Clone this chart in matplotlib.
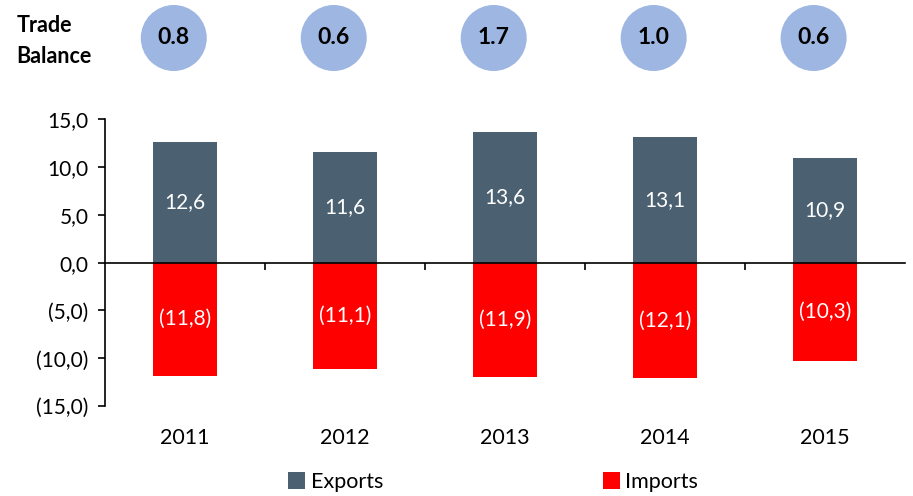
import numpy as np
import matplotlib
matplotlib.use("Agg")
import matplotlib.pyplot as plt
from matplotlib.patches import Circle
from matplotlib.ticker import FuncFormatter

years = ['2011', '2012', '2013', '2014', '2015']
exports = [12.6, 11.6, 13.6, 13.1, 10.9]
imports = [-11.8, -11.1, -11.9, -12.1, -10.3]
balance = ['0.8', '0.6', '1.7', '1.0', '0.6']

plt.rcParams['font.family'] = ['Lato', 'DejaVu Sans']

exp_color = '#4B6070'
imp_color = '#FF0000'
circ_color = '#9DB6E2'


def fmt(v, pos=None):
    s = '{:.1f}'.format(abs(v)).replace('.', ',')
    return '({})'.format(s) if v < -1e-9 else s


def main():
    fig = plt.figure(figsize=(9.13, 4.96), dpi=100)
    ax = fig.add_axes([0.115, 0.181, 0.876, 0.579])
    x = np.arange(len(years))

    ax.bar(x, exports, width=0.4, color=exp_color, label='Exports', zorder=2)
    ax.bar(x, imports, width=0.4, color=imp_color, label='Imports', zorder=2)

    for xi, e, i in zip(x, exports, imports):
        ax.text(xi, e / 2, fmt(e), ha='center', va='center', color='white', fontsize=15)
        ax.text(xi, i / 2, fmt(i), ha='center', va='center', color='white', fontsize=15)

    ax.set_xlim(-0.5, len(years) - 0.5)
    ax.set_ylim(-15, 15)
    ax.set_yticks(np.arange(-15, 16, 5))
    ax.yaxis.set_major_formatter(FuncFormatter(fmt))
    ax.tick_params(axis='y', labelsize=15, length=5, width=1.2, pad=7)

    for s in ['top', 'right']:
        ax.spines[s].set_visible(False)
    ax.spines['left'].set_linewidth(1.2)
    ax.spines['bottom'].set_position(('data', 0))
    ax.spines['bottom'].set_linewidth(1.2)
    ax.set_xticks(x[:-1] + 0.5)
    ax.set_xticklabels([])
    ax.tick_params(axis='x', length=5, width=1.2)

    sec = ax.secondary_xaxis('bottom')
    sec.set_xticks(x)
    sec.set_xticklabels(years)
    sec.tick_params(length=0, labelsize=15.5, pad=16)
    sec.spines['bottom'].set_visible(False)

    # trade balance bubbles
    fig.text(0.018, 1 - 41 / 496, 'Trade\nBalance', fontsize=15.5, fontweight='bold',
             ha='left', va='center', linespacing=1.55)
    for xi, b in zip(x, balance):
        px, _ = ax.transData.transform((xi - 0.07, 0))
        py = fig.bbox.height - 38
        fig.patches.append(Circle((px, py), 33, transform=None,
                                  facecolor=circ_color, edgecolor='none'))
        fig.text(px / fig.bbox.width, py / fig.bbox.height, b, ha='center', va='center',
                 fontsize=16.5, fontweight='bold')

    fig.legend(loc='center', bbox_to_anchor=(0.54, 0.028), ncol=2, frameon=False,
               fontsize=15.5, columnspacing=10.2, handlelength=0.8, handleheight=0.8,
               handletextpad=0.25)

    fig.savefig('out.png', dpi=100)


if __name__ == '__main__':
    main()
